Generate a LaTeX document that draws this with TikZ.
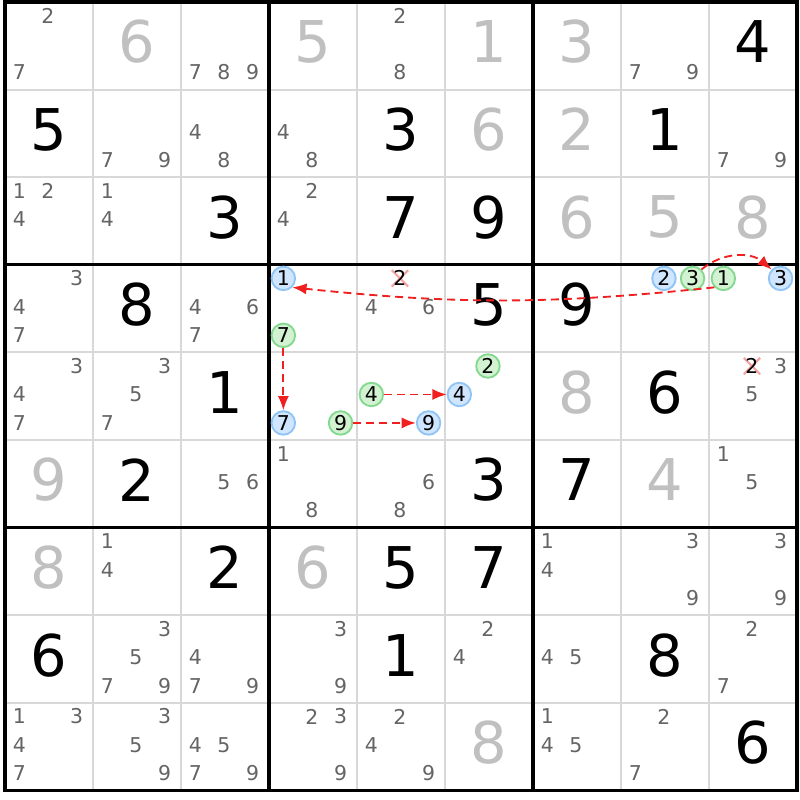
\documentclass[tikz,border=0pt]{standalone}
\usepackage{fontspec}
\setmainfont{DejaVu Sans}
\usetikzlibrary{arrows.meta,shapes.misc}
\definecolor{candgray}{HTML}{646464}
\definecolor{solvedgray}{HTML}{C0C0C0}
\definecolor{gridgray}{HTML}{D8D8D8}
\definecolor{onfill}{HTML}{D2F2D2}
\definecolor{ondraw}{HTML}{84D890}
\definecolor{offfill}{HTML}{D0E6FF}
\definecolor{offdraw}{HTML}{90C4F4}
\definecolor{linkred}{HTML}{F02020}
\definecolor{crossred}{HTML}{F4A4A4}
\tikzset{gridline/.style={gridgray,line width=0.6pt}}
\tikzset{boxline/.style={black,line width=1pt}}
\tikzset{given/.style={font=\fontsize{18.6}{20}\selectfont,inner sep=0pt}}
\tikzset{solved/.style={given,text=solvedgray}}
\tikzset{cand/.style={font=\fontsize{6.6}{7}\selectfont,text=candgray,inner sep=0pt}}
\tikzset{oncand/.style={cand,text=black,circle,draw=ondraw,fill=onfill,line width=0.6pt,minimum size=7.6pt}}
\tikzset{offcand/.style={oncand,draw=offdraw,fill=offfill}}
\tikzset{crossnode/.style={cross out,draw=crossred,line width=0.7pt,minimum width=4.6pt,minimum height=4.6pt,inner sep=0pt}}
\tikzset{link/.style={-{Latex[length=4.6pt,width=3.6pt]},linkred,line width=0.6pt,dash pattern=on 2.6pt off 1.6pt}}
% position of candidate #3 in cell (#1,#2)
\newcommand{\candpos}[3]{%
  \pgfmathsetmacro{\cx}{#2-0.837+0.325*mod(#3-1,3)}%
  \pgfmathsetmacro{\cy}{#1-0.845+0.325*div(#3-1,3)}}
\newcommand{\putcands}[3]{%
  \foreach \d in {#3}{%
    \candpos{#1}{#2}{\d}
    \node[cand] (r#1c#2d\d) at (\cx,\cy) {\d};}}
\newcommand{\putmark}[4]{%
  \candpos{#1}{#2}{#3}
  \node[#4] (r#1c#2d#3) at (\cx,\cy) {#3};}
\newcommand{\putcross}[3]{%
  \candpos{#1}{#2}{#3}
  \node[crossnode] (x#1#2#3) at (\cx,\cy) {};
  \node[cand,text=black] (r#1c#2d#3) at (\cx,\cy) {#3};}

\begin{document}
\begin{tikzpicture}[x=1cm,y=-0.9955cm]
  \useasboundingbox (-0.0568,-0.0228) rectangle (9.034,9.109);
  \fill[white] (-0.0568,-0.0228) rectangle (9.034,9.109);
  % grid
  \foreach \i in {1,2,4,5,7,8} {
    \draw[gridline] (\i,0) -- (\i,9);
    \draw[gridline] (0,\i) -- (9,\i);
  }
  \foreach \i in {3,6} {
    \draw[boxline] (\i,0) -- (\i,9);
    \draw[boxline] (0,\i) -- (9,\i);
  }
  \draw[boxline] (0,0) rectangle (9,9);
  % values
  \foreach \r/\c/\v in {1/9/4,2/1/5,2/5/3,2/8/1,3/3/3,3/5/7,3/6/9,4/2/8,4/6/5,4/7/9,
      5/3/1,5/8/6,6/2/2,6/6/3,6/7/7,7/3/2,7/5/5,7/6/7,8/1/6,8/5/1,8/8/8,9/9/6}
    \node[given] (v\r\c) at (\c-0.5,\r-0.545) {\v};
  \foreach \r/\c/\v in {1/2/6,1/4/5,1/6/1,1/7/3,2/6/6,2/7/2,3/7/6,3/8/5,3/9/8,
      5/7/8,6/1/9,6/8/4,7/1/8,7/4/6,9/6/8}
    \node[solved] (v\r\c) at (\c-0.5,\r-0.545) {\v};
  % candidates
  \putcands{1}{1}{2,7}
  \putcands{1}{3}{7,8,9}
  \putcands{1}{5}{2,8}
  \putcands{1}{8}{7,9}
  \putcands{2}{2}{7,9}
  \putcands{2}{3}{4,8}
  \putcands{2}{4}{4,8}
  \putcands{2}{9}{7,9}
  \putcands{3}{1}{1,2,4}
  \putcands{3}{2}{1,4}
  \putcands{3}{4}{2,4}
  \putcands{4}{1}{3,4,7}
  \putcands{4}{3}{4,6,7}
  \putcands{4}{5}{4,6}
  \putcands{5}{1}{3,4,7}
  \putcands{5}{2}{3,5,7}
  \putcands{5}{9}{3,5}
  \putcands{6}{3}{5,6}
  \putcands{6}{4}{1,8}
  \putcands{6}{5}{6,8}
  \putcands{6}{9}{1,5}
  \putcands{7}{2}{1,4}
  \putcands{7}{7}{1,4}
  \putcands{7}{8}{3,9}
  \putcands{7}{9}{3,9}
  \putcands{8}{2}{3,5,7,9}
  \putcands{8}{3}{4,7,9}
  \putcands{8}{4}{3,9}
  \putcands{8}{6}{2,4}
  \putcands{8}{7}{4,5}
  \putcands{8}{9}{2,7}
  \putcands{9}{1}{1,3,4,7}
  \putcands{9}{2}{3,5,9}
  \putcands{9}{3}{4,5,7,9}
  \putcands{9}{4}{2,3,9}
  \putcands{9}{5}{2,4,9}
  \putcands{9}{7}{1,4,5}
  \putcands{9}{8}{2,7}
  % eliminated
  \putcross{4}{5}{2}
  \putcross{5}{9}{2}
  % chain
  \putmark{4}{4}{1}{offcand}
  \putmark{4}{4}{7}{oncand}
  \putmark{5}{4}{7}{offcand}
  \putmark{5}{4}{9}{oncand}
  \putmark{5}{5}{4}{oncand}
  \putmark{5}{5}{9}{offcand}
  \putmark{5}{6}{2}{oncand}
  \putmark{5}{6}{4}{offcand}
  \putmark{4}{8}{2}{offcand}
  \putmark{4}{8}{3}{oncand}
  \putmark{4}{9}{1}{oncand}
  \putmark{4}{9}{3}{offcand}
  \draw[link] (r4c4d7) -- (r5c4d7);
  \draw[link] (r5c5d4) -- (r5c6d4);
  \draw[link] (r5c4d9) -- (r5c5d9);
  \draw[link] (r4c9d1.south west) to[bend left=6] (r4c4d1.south east);
  \draw[link] (r4c8d3.north east) to[bend left=40] (r4c9d3.north west);
\end{tikzpicture}
\end{document}
